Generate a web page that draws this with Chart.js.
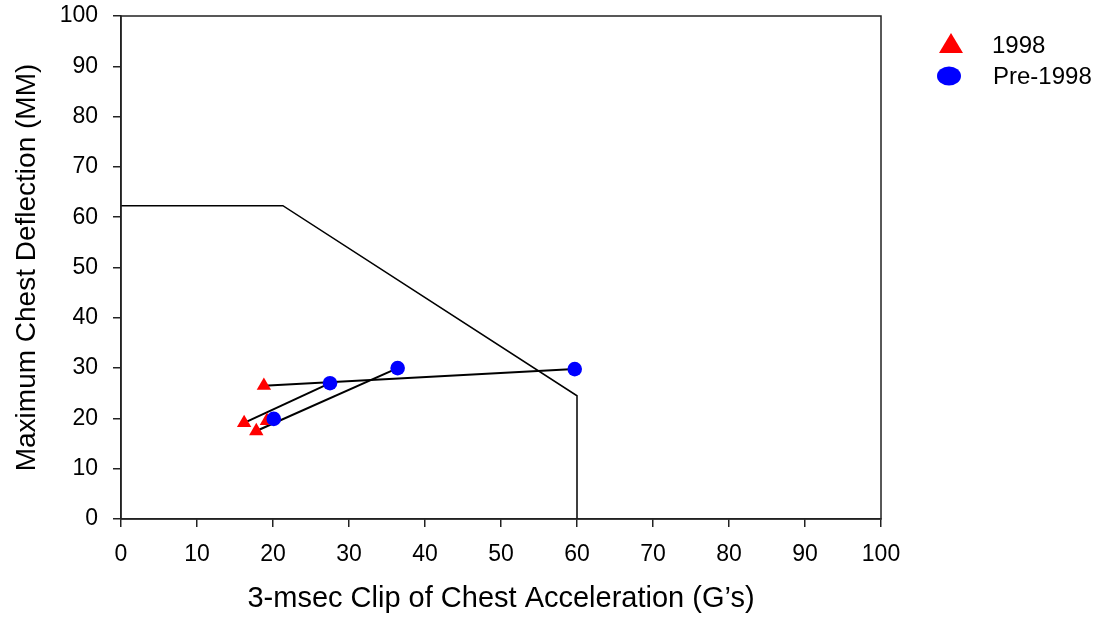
<!DOCTYPE html>
<html>
<head>
<meta charset="utf-8">
<script src="https://cdn.jsdelivr.net/npm/chart.js@4/dist/chart.umd.min.js"></script>
<style>
  html, body { margin: 0; padding: 0; background: #fff; }
  #wrap { width: 1103px; height: 620px; position: relative; }
</style>
</head>
<body>
<div id="wrap"><canvas id="c" width="1103" height="620"></canvas></div>
<script>
// ---- data ----
const seriesNames = ['1998', 'Pre-1998'];
const acc1998  = [18.8, 16.2, 19.2, 17.8];
const defl1998 = [26.5, 19.1, 19.5, 17.5];
const accPre   = [59.7, 27.5, 20.1, 36.4];
const deflPre  = [29.8, 27.0, 19.9, 30.0];
const limitAcc  = [0, 21.3, 60, 60];
const limitDefl = [62.3, 62.3, 24.5, 0];
const tickValues = [0, 10, 20, 30, 40, 50, 60, 70, 80, 90, 100];
const xTitle = '3-msec Clip of Chest Acceleration (G\u2019s)';
const yTitle = 'Maximum Chest Deflection (MM)';

const FONT = 'Arial, "Liberation Sans", Helvetica, sans-serif';
const toPts = (xs, ys) => xs.map((x, i) => ({x: x, y: ys[i]}));

const pairLines = acc1998.map((x, i) => ({
  type: 'scatter',
  label: 'pair' + i,
  data: [{x: x, y: defl1998[i]}, {x: accPre[i], y: deflPre[i]}],
  showLine: true,
  borderColor: '#000',
  borderWidth: 2,
  pointRadius: 0,
  order: 3
}));

const datasets = [
  {
    label: seriesNames[1],
    data: toPts(accPre, deflPre),
    pointStyle: 'circle',
    pointRadius: 7.3,
    backgroundColor: '#0000ff',
    borderColor: '#0000ff',
    borderWidth: 0,
    showLine: false,
    order: 1
  },
  {
    label: seriesNames[0],
    data: toPts(acc1998, defl1998),
    pointStyle: 'triangle',
    pointRadius: 8.3,
    backgroundColor: '#ff0000',
    borderColor: '#ff0000',
    borderWidth: 0,
    showLine: false,
    order: 2
  },
  ...pairLines,
  {
    label: 'limit',
    data: toPts(limitAcc, limitDefl),
    showLine: true,
    borderColor: '#000',
    borderWidth: 1.5,
    pointRadius: 0,
    order: 4
  }
];

const boxPlugin = {
  id: 'box',
  afterDatasetsDraw(chart) {
    const {ctx, chartArea: a} = chart;
    ctx.save();
    ctx.strokeStyle = '#222';
    ctx.lineWidth = 1.5;
    ctx.strokeRect(a.left, a.top, a.right - a.left, a.bottom - a.top);
    ctx.restore();
  }
};

const legendPlugin = {
  id: 'customLegend',
  afterDraw(chart) {
    const ctx = chart.ctx;
    ctx.save();
    // 1998 triangle
    ctx.fillStyle = '#ff0000';
    ctx.beginPath();
    ctx.moveTo(951, 33);
    ctx.lineTo(963, 53);
    ctx.lineTo(939, 53);
    ctx.closePath();
    ctx.fill();
    // Pre-1998 ellipse
    ctx.fillStyle = '#0000ff';
    ctx.beginPath();
    ctx.ellipse(949, 76, 12, 9.5, 0, 0, Math.PI * 2);
    ctx.fill();
    ctx.fillStyle = '#000';
    ctx.font = '24px ' + FONT;
    ctx.textBaseline = 'middle';
    ctx.textAlign = 'left';
    ctx.fillText(seriesNames[0], 992, 46);
    ctx.fillText(seriesNames[1], 993, 77);
    ctx.restore();
  }
};

new Chart(document.getElementById('c'), {
  type: 'scatter',
  data: { datasets: datasets },
  options: {
    responsive: false,
    animation: false,
    layout: { padding: { left: 0, top: 16, right: 222, bottom: 0 } },
    plugins: { legend: { display: false }, tooltip: { enabled: false } },
    scales: {
      x: {
        type: 'linear', min: 0, max: 100,
        afterBuildTicks(s) { s.ticks = tickValues.map(v => ({value: v})); },
        afterFit(s) { s.height = 101; s.paddingLeft = 0; s.paddingRight = 0; },
        grid: { drawOnChartArea: false, drawTicks: true, tickLength: 8, color: '#222', lineWidth: 1.5 },
        border: { display: true, color: '#222', width: 1.5 },
        ticks: { color: '#000', font: { family: FONT, size: 23 }, padding: 14, maxRotation: 0 },
        title: { display: true, text: xTitle, color: '#000', font: { family: FONT, size: 29 }, padding: { top: 0, bottom: 4 } }
      },
      y: {
        type: 'linear', min: 0, max: 100,
        afterBuildTicks(s) { s.ticks = tickValues.map(v => ({value: v})); },
        afterFit(s) { s.width = 121; s.paddingTop = 0; s.paddingBottom = 0; },
        grid: { drawOnChartArea: false, drawTicks: true, tickLength: 8, color: '#222', lineWidth: 1.5 },
        border: { display: true, color: '#222', width: 1.5 },
        ticks: { color: '#000', font: { family: FONT, size: 23 }, padding: 15 },
        title: { display: true, text: yTitle, color: '#000', font: { family: FONT, size: 28 }, padding: { top: 10, bottom: 0 } }
      }
    }
  },
  plugins: [boxPlugin, legendPlugin]
});
</script>
</body>
</html>
